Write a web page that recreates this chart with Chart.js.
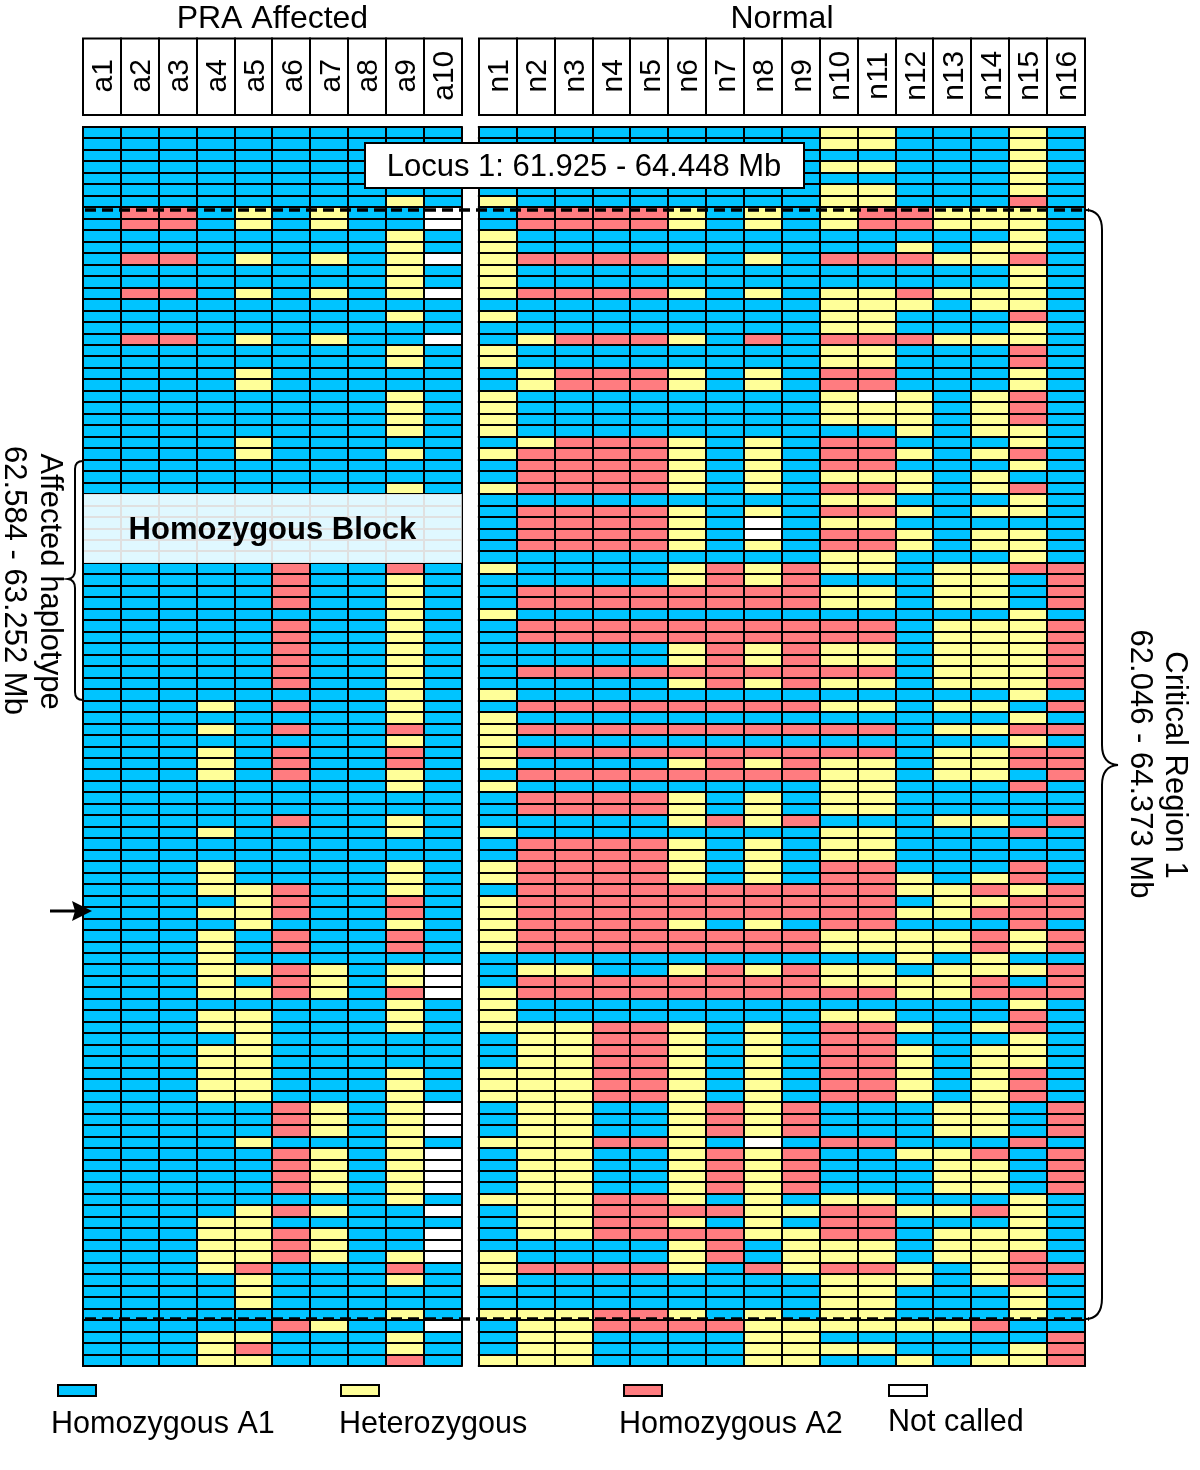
<!DOCTYPE html>
<html>
<head>
<meta charset="utf-8">
<style>html,body{margin:0;padding:0;background:#fff}canvas{display:block}</style>
<script src="https://cdn.jsdelivr.net/npm/chart.js@4"></script>
</head>
<body>
<canvas id="c" width="1200" height="1470"></canvas>
<script>
const affectedSamples = ["a1","a2","a3","a4","a5","a6","a7","a8","a9","a10"];
const normalSamples = ["n1","n2","n3","n4","n5","n6","n7","n8","n9","n10","n11","n12","n13","n14","n15","n16"];
const legendCodes = ["B","Y","R","W"];
const legendNames = ["Homozygous A1","Heterozygous","Homozygous A2","Not called"];
const genotypeColors = {B:"#00C4FF",Y:"#FFFF99",R:"#FF7C80",W:"#FFFFFF"};

const affectedRows = [
"BBBBBBBBBB","BBBBBBBBBB","BBBBBBBBBB","BBBBBBBBBB","BBBBBBBBBB","BBBBBBBBBB","BBBBBBBBYB","BRRBYBYBBW",
"BRRBYBYBBW","BBBBBBBBYB","BBBBBBBBYB","BRRBYBYBYW","BBBBBBBBYB","BBBBBBBBYB","BRRBYBYBYW","BBBBBBBBBB",
"BBBBBBBBYB","BBBBBBBBBB","BRRBYBYBBW","BBBBBBBBYB","BBBBBBBBYB","BBBBYBBBBB","BBBBYBBBBB","BBBBBBBBYB",
"BBBBBBBBYB","BBBBBBBBYB","BBBBBBBBYB","BBBBYBBBBB","BBBBYBBBYB","BBBBBBBBBB","BBBBBBBBBB","BBBBBBBBYB",
"BBBBBBBBBB","BBBBBBBBBB","BBBBBBBBBB","BBBBBBBBBB","BBBBBBBBBB","BBBBBBBBBB","BBBBBRBBRB","BBBBBRBBYB",
"BBBBBRBBYB","BBBBBRBBYB","BBBBBBBBYB","BBBBBRBBYB","BBBBBRBBYB","BBBBBRBBYB","BBBBBRBBYB","BBBBBRBBYB",
"BBBBBRBBYB","BBBBBBBBYB","BBBYBRBBYB","BBBBBBBBYB","BBBYBRBBRB","BBBBBBBBYB","BBBYBRBBRB","BBBYBRBBRB",
"BBBYBRBBYB","BBBBBBBBYB","BBBBBBBBBB","BBBBBBBBBB","BBBBBRBBYB","BBBYBBBBYB","BBBBBBBBBB","BBBBBBBBBB",
"BBBYBBBBYB","BBBYBBBBYB","BBBYYRBBYB","BBBBYRBBRB","BBBYYRBBRB","BBBBYBBBYB","BBBYBRBBRB","BBBYBRBBRB",
"BBBYBBBBBB","BBBYYRYBYW","BBBYBRYBYW","BBBYYRYBRW","BBBBBBBBYB","BBBYYBBBYB","BBBYYBBBYB","BBBBYBBBBB",
"BBBYYBBBBB","BBBYYBBBBB","BBBYYBBBYB","BBBYYBBBYB","BBBYYBBBYB","BBBBBRYBYW","BBBBBRYBYW","BBBBBRYBYW",
"BBBBYBBBYB","BBBBBRYBYW","BBBBBRYBYW","BBBBBRYBYW","BBBBBRYBYW","BBBBBBBBYB","BBBBYRYBBW","BBBYYBBBBB",
"BBBYYRYBBW","BBBYYRYBBW","BBBYYRYBYW","BBBYRBBBRB","BBBBYBBBYB","BBBBYBBBBB","BBBBYBBBBB","BBBBBBBBYB",
"BBBBBRYBBW","BBBYYBBBYB","BBBYRBBBYB","BBBYYBBBRB"
];
const normalRows = [
"BBBBBBBBBYYBBBYB","BBBBBBBBBYYBBBYB","BBBBBBBBBBBBBBYB","BBBBBBBBBYYBBBYB","BBBBBBBBBBBBBBYB","BBBBBBBBBYYBBBYB",
"YBBBBBBBBYYBBBRB","BRRRRYBYBYRRYYYB","BRRRRYBYBYRRYYYB","YBBBBBBBBBBBBBYB","YBBBBBBBBBBYBYYB","YRRRRYBYBRRRYYRB",
"YBBBBBBBBBBBBBYB","YBBBBBBBBBBBBBYB","YRRRRYBYBYYRYYYB","BBBBBBBBBYYYBYYB","YBBBBBBBBYYBBBRB","BBBBBBBBBYYBBBYB",
"BYRRRYBRBRRRYYYB","YBBBBBBBBYYBBBRB","YBBBBBBBBYYBBBRB","BYRRRYBYBRRBBBYB","BYRRRYBYBRRBBBYB","YBBBBBBBBYWYBYRB",
"YBBBBBBBBYYYBYRB","YBBBBBBBBYYYBYRB","YBBBBBBBBBBYBYYB","BYRRRYBYBRRBBBYB","YRRRRYBYBRRYBYRB","BRRRRYBYBRRBBBYB",
"BRRRRYBYBYYYBYBB","YRRRRYBYBRRYBYRB","BBBBBBBBBYYBBBYB","BRRRRYBYBRRYBYYB","BRRRRYBWBYYBBBBB","BRRRRYBWBRRYBYYB",
"BRRRRYBYBRRYBYYB","BBBBBBBBBYYBBBYB","YBBBBYRYRYYBYYRR","BBBBBYRYRBBBYYBR","BRRRRRRRRYYBYYBR","BRRRRRRRRYYBYYBR",
"YBBBBBBBBBBBBBYB","BRRRRRRRRRRBYYYR","BRRRRRRRRRRBYYYR","BBBBBYRYRYYBYYYR","BBBBBYRYRYYBYYYR","BRRRRRRRRRRBYYYR",
"BBBBBYRYRYYBYYYR","YBBBBBBBBBBBBBYB","BRRRRRRRRYYBYYBR","YBBBBBBBBBBBBBYB","YRRRRRRRRRRBYYRR","YBBBBBBBBBBBBBYB",
"YRRRRRRRRRRBYYRR","YBBBBYRYRYYBYYRR","BRRRRRRRRYYBYYBR","YBBBBBBBBYYBBBRB","BRRRRYBYBYYBBBBB","BRRRRYBYBYYBBBBB",
"BBBBBYRYRBBBYYBR","YBBBBBBBBYYBBBRB","BRRRRYBYBYYBBBBB","BRRRRYBYBYYBBBBB","YRRRRYBYBRRBBBRB","YRRRRYBYBRRYBYRB",
"BRRRRRRRRRRYYRYR","YRRRRRRRRRRBYYRR","YRRRRRRRRRRYYRRR","YRRRRYBYBRRBBBRB","YRRRRRRRRYYYYRYR","YRRRRRRRRYYYYRYR",
"BBBBBBBBBBBYBYBB","BYYBBYRYRYYBYYYR","BRRRRRRRRYYYYRBR","YRRRRRRRRRRYYRRR","YBBBBBBBBBBBBBYB","YBBBBBBBBYYBBBRB",
"YYYRRYBYBRRYBYRB","BYYRRYBYBRRBBBYB","BYYRRYBYBRRYBYYB","BYYRRYBYBRRYBYYB","YYYRRYBYBRRYBYRB","YYYRRYBYBRRYBYRB",
"YYYRRYBYBRRYBYRB","BYYBBYRYRBBBYYBR","BYYBBYRYRBBBYYBR","BYYBBYRYRBBBYYBR","YYYRRYBWBRRBBBRB","BYYBBYRYRBBYYRBR",
"BYYBBYRYRBBBYYBR","BYYBBYRYRBBBYYBR","BYYBBYRYRBBBYYBR","YYYRRYBYBYYBBBYB","BYYRRRRYYRRYYRYB","BYYRRYBYBRRBBBYB",
"BYYRRRRYYRRBYYYB","BBBBBYRBYYYBYYYB","YBBBBYRBYYYBYYRB","YRRRRYBRYRRYBYRR","YBBBBBBBBYYYBYRB","BBBBBBBBBYYBBBYB",
"BBBBBBBBBYYBBBYB","YYYRRYBYBYYBBBYB","BYYRRRRYYYYYYRBB","BYYBBBBYYBBBBBBR","BYYBBBBYYYYBBBYR","YYYBBBBYYBBYBYYR"
];

const CELL = 1;
const GAP = 0.45;
const rowLabels = affectedRows.map((_, i) => "snp" + (i + 1));

function sampleDataset(name, rows, col) {
  return {
    label: name,
    data: rows.map(() => CELL),
    backgroundColor: rows.map(r => genotypeColors[r[col]]),
    borderWidth: 0,
    inflateAmount: 0,
    categoryPercentage: 1,
    barPercentage: 1
  };
}
const datasets = [
  ...affectedSamples.map((n, i) => sampleDataset(n, affectedRows, i)),
  {label:"", data: affectedRows.map(() => GAP), backgroundColor:"rgba(255,255,255,1)", borderWidth:0, categoryPercentage:1, barPercentage:1, inflateAmount:0},
  ...normalSamples.map((n, i) => sampleDataset(n, normalRows, i))
];

const FONT = '"Liberation Sans", Arial, sans-serif';
const overlay = {
  id: "overlay",
  afterDatasetsDraw(chart) {
    const ctx = chart.ctx, xs = chart.scales.x, ys = chart.scales.y;
    const { left, right, top, bottom } = chart.chartArea;
    const text = (s, x, y, size, align = "center", weight = "") => {
      ctx.font = `${weight} ${size}px ${FONT}`;
      ctx.textAlign = align; ctx.textBaseline = "middle"; ctx.fillStyle = "#000";
      ctx.fillText(s, x, y);
    };
    const vtext = (s, x, y, size, angle) => {
      ctx.save(); ctx.translate(x, y); ctx.rotate(angle);
      text(s, 0, 0, size); ctx.restore();
    };
    ctx.save();

    const affEnd = xs.getPixelForValue(affectedSamples.length * CELL);
    const normStart = xs.getPixelForValue(affectedSamples.length * CELL + GAP);

    // cell grid
    ctx.strokeStyle = "#000"; ctx.lineWidth = 2;
    const rowH = (bottom - top) / affectedRows.length;
    ctx.beginPath();
    for (let i = 0; i <= affectedRows.length; i++) {
      const y = Math.round(ys.getPixelForValue(i) - rowH / 2);
      ctx.moveTo(left - 1, y); ctx.lineTo(affEnd + 1, y);
      ctx.moveTo(normStart - 1, y); ctx.lineTo(right + 1, y);
    }
    const colLine = v => { const x = Math.round(xs.getPixelForValue(v)); ctx.moveTo(x, top); ctx.lineTo(x, bottom); };
    for (let i = 0; i <= affectedSamples.length; i++) colLine(i * CELL);
    for (let i = 0; i <= normalSamples.length; i++) colLine(affectedSamples.length * CELL + GAP + i * CELL);
    ctx.stroke();

    // headers
    text("PRA Affected", (left + affEnd) / 2, 19, 32);
    text("Normal", (normStart + right) / 2, 19, 32);
    const headerTop = 38.5, headerH = 76.5;
    const drawHeader = (names, startVal) => {
      names.forEach((n, i) => {
        const a = xs.getPixelForValue(startVal + i * CELL), b = xs.getPixelForValue(startVal + (i + 1) * CELL);
        ctx.strokeRect(Math.round(a), headerTop, Math.round(b) - Math.round(a), headerH);
        vtext(n, (a + b) / 2 + 2, headerTop + headerH / 2 - 1, 30, -Math.PI / 2);
      });
    };
    drawHeader(affectedSamples, 0);
    drawHeader(normalSamples, affectedSamples.length * CELL + GAP);

    // homozygous block
    ctx.fillStyle = "rgba(255,255,255,0.88)";
    ctx.fillRect(left, 494, affEnd - left, 69);
    ctx.strokeStyle = "#000"; ctx.lineWidth = 2;
    ctx.beginPath(); ctx.moveTo(left, 494); ctx.lineTo(left, 563); ctx.stroke();
    text("Homozygous Block", (left + affEnd) / 2, 530, 31, "center", "bold");

    // dashed bounds
    ctx.strokeStyle = "#000"; ctx.lineWidth = 3.5; ctx.setLineDash([11, 6]);
    [210, 1319].forEach(y => { ctx.beginPath(); ctx.moveTo(left + 2, y); ctx.lineTo(right + 4, y); ctx.stroke(); });
    ctx.setLineDash([]);

    // locus box
    ctx.fillStyle = "#fff"; ctx.fillRect(365, 143, 439, 45);
    ctx.strokeStyle = "#000"; ctx.lineWidth = 2; ctx.strokeRect(365, 143, 439, 45);
    text("Locus 1: 61.925 - 64.448 Mb", 584, 167, 31);

    // right brace
    ctx.lineWidth = 2; ctx.beginPath();
    ctx.moveTo(1085, 210);
    ctx.quadraticCurveTo(1102, 210, 1102, 230);
    ctx.lineTo(1102, 745);
    ctx.quadraticCurveTo(1102, 764, 1118, 765);
    ctx.quadraticCurveTo(1102, 766, 1102, 785);
    ctx.lineTo(1102, 1298);
    ctx.quadraticCurveTo(1102, 1319, 1085, 1319);
    ctx.stroke();
    vtext("Critical Region 1", 1175, 765, 31, Math.PI / 2);
    vtext("62.046 - 64.373 Mb", 1140, 764, 31, Math.PI / 2);

    // left brace
    ctx.beginPath();
    ctx.moveTo(83, 461);
    ctx.quadraticCurveTo(75, 461, 75, 469);
    ctx.lineTo(75, 570);
    ctx.quadraticCurveTo(75, 578, 68, 579);
    ctx.quadraticCurveTo(75, 580, 75, 588);
    ctx.lineTo(75, 692);
    ctx.quadraticCurveTo(75, 700, 83, 700);
    ctx.stroke();
    vtext("Affected haplotype", 50, 581.5, 31, Math.PI / 2);
    vtext("62.584 - 63.252 Mb", 14, 580.5, 31, Math.PI / 2);

    // arrow
    ctx.lineWidth = 3; ctx.beginPath(); ctx.moveTo(50, 911); ctx.lineTo(76, 911); ctx.stroke();
    ctx.fillStyle = "#000"; ctx.beginPath();
    ctx.moveTo(92, 911); ctx.lineTo(72, 901); ctx.lineTo(75, 911); ctx.lineTo(72, 921); ctx.closePath(); ctx.fill();

    // legend
    const swatchX = [58, 341, 624, 889], labelX = [51, 339, 619, 888], labelY = [1425, 1425, 1425, 1423];
    legendCodes.forEach((c, i) => {
      ctx.fillStyle = genotypeColors[c]; ctx.fillRect(swatchX[i], 1385, 38, 11);
      ctx.strokeStyle = "#000"; ctx.lineWidth = 2; ctx.strokeRect(swatchX[i], 1385, 38, 11);
      text(legendNames[i], labelX[i], labelY[i], 30.5, "left");
    });
    ctx.restore();
  }
};

new Chart(document.getElementById("c"), {
  type: "bar",
  data: { labels: rowLabels, datasets },
  options: {
    indexAxis: "y",
    responsive: false,
    animation: false,
    devicePixelRatio: 1,
    layout: { padding: { left: 83, right: 115, top: 127, bottom: 104 } },
    scales: {
      x: { type: "linear", stacked: true, min: 0, max: (affectedSamples.length + normalSamples.length) * CELL + GAP, display: false },
      y: { stacked: true, display: false }
    },
    plugins: { legend: { display: false }, tooltip: { enabled: false } }
  },
  plugins: [overlay]
});
</script>
</body>
</html>
